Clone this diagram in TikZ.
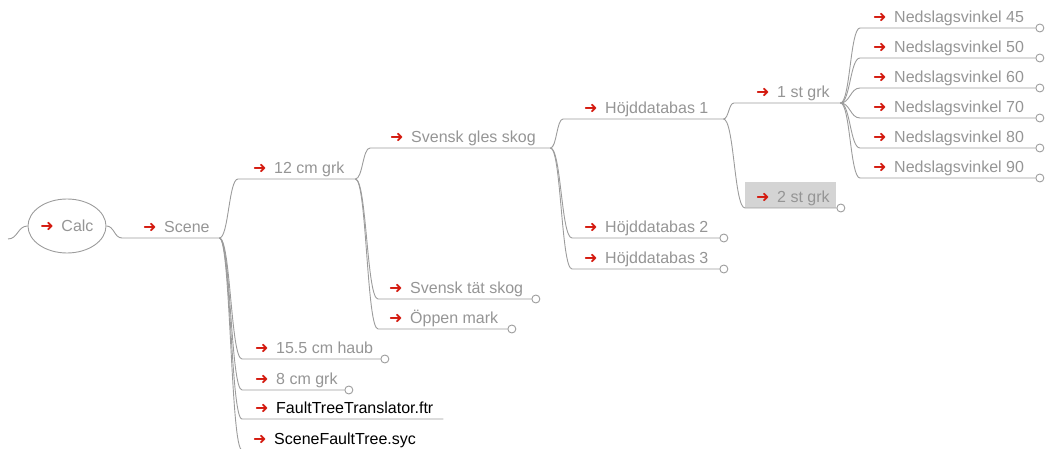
\documentclass[tikz,border=0pt]{standalone}
\usepackage{fontspec}
\setmainfont{Liberation Sans}
\newfontfamily\symfont{DejaVu Sans}
\usetikzlibrary{calc,shapes.geometric}
\definecolor{txtgray}{HTML}{959595}
\definecolor{linegray}{HTML}{9C9C9C}
\definecolor{iconred}{HTML}{D41A0F}
\definecolor{selfill}{HTML}{D4D4D4}
% red "forward" icon in front of every label
\newcommand\fwd{\makebox[21pt][l]{\textcolor{iconred}{\symfont ➜}}}
% label of a fork node: total width, gap before the icon, text
\newcommand\itm[3]{\makebox[#1pt][l]{\hspace*{#2pt}\fwd #3}}

\begin{document}
\begin{tikzpicture}[x=1pt,y=-1pt,
  font=\fontsize{16}{19}\selectfont,
  item/.style={anchor=south west, inner xsep=0pt, inner ysep=0pt,
    text height=12pt, text depth=5.5pt, text=txtgray},
  sel/.style={fill=selfill, text height=20.5pt},
  ell/.style={ellipse, draw=linegray, line width=0.9pt, minimum width=78pt,
    minimum height=54pt, inner sep=0pt, text=txtgray},
  knob/.style={circle, draw=linegray, line width=0.9pt, fill=white,
    inner sep=0pt, minimum size=8pt, anchor=west},
  edge/.style={draw=linegray, line width=0.9pt},
  fork/.style={to path={.. controls ($(\tikztostart)!0.5!(\tikztostart-|\tikztotarget)$)
    and ($(\tikztotarget)!0.5!(\tikztotarget-|\tikztostart)$) .. (\tikztotarget)}}]
\useasboundingbox (0,0) rectangle (1045,449);

% nodes
\coordinate (root) at (8,239);
\node[ell] (calc) at (67,226) {\fwd Calc};
\node[item] (scene) at (122,238) {\itm{97}{21}{Scene}};
\node[item] (g12) at (238,179) {\itm{117}{15}{12 cm grk}};
\node[item] (gles) at (370,148) {\itm{180}{20}{Svensk gles skog}};
\node[item] (h1) at (563,119) {\itm{160}{21}{Höjddatabas 1}};
\node[item] (st1) at (734,103) {\itm{106}{22}{1 st grk}};
\node[item] (n45) at (860,28) {\itm{175}{13}{Nedslagsvinkel 45}};
\node[item] (n50) at (860,58) {\itm{175}{13}{Nedslagsvinkel 50}};
\node[item] (n60) at (860,88) {\itm{175}{13}{Nedslagsvinkel 60}};
\node[item] (n70) at (860,118) {\itm{175}{13}{Nedslagsvinkel 70}};
\node[item] (n80) at (860,148) {\itm{175}{13}{Nedslagsvinkel 80}};
\node[item] (n90) at (860,178) {\itm{175}{13}{Nedslagsvinkel 90}};
\node[item, sel] (st2) at (745,208) {\itm{91}{11}{2 st grk}};
\node[item] (h2) at (572,238) {\itm{147}{12}{Höjddatabas 2}};
\node[item] (h3) at (572,269) {\itm{147}{12}{Höjddatabas 3}};
\node[item] (tat) at (378,299) {\itm{153}{11}{Svensk tät skog}};
\node[item] (oppen) at (378,329) {\itm{129}{11}{Öppen mark}};
\node[item] (haub) at (242,359) {\itm{138}{13}{15.5 cm haub}};
\node[item] (g8) at (242,390) {\itm{102}{13}{8 cm grk}};
\node[item, text=black] (ftr) at (242,419) {\itm{201}{13}{FaultTreeTranslator.ftr}};
\node[item, text=black] (syc) at (242,450) {\itm{180}{11}{SceneFaultTree.syc}};

% connectors, each ending in the child's underline
\draw[edge] (root) to[fork] (calc.west);
\draw[edge] (calc.east) to[fork] (scene.south west) -- (scene.south east);
\foreach \c in {g12,haub,g8,ftr,syc}
  \draw[edge] (scene.south east) to[fork] (\c.south west) -- (\c.south east);
\foreach \c in {gles,tat,oppen}
  \draw[edge] (g12.south east) to[fork] (\c.south west) -- (\c.south east);
\foreach \c in {h1,h2,h3}
  \draw[edge] (gles.south east) to[fork] (\c.south west) -- (\c.south east);
\foreach \c in {st1,st2}
  \draw[edge] (h1.south east) to[fork] (\c.south west) -- (\c.south east);
\foreach \c in {n45,n50,n60,n70,n80,n90}
  \draw[edge] (st1.south east) to[fork] (\c.south west) -- (\c.south east);

% folded-leaf markers
\foreach \c in {n45,n50,n60,n70,n80,n90,st2,h2,h3,tat,oppen,haub,g8}
  \node[knob] (\c-k) at (\c.south east) {};
\end{tikzpicture}
\end{document}
